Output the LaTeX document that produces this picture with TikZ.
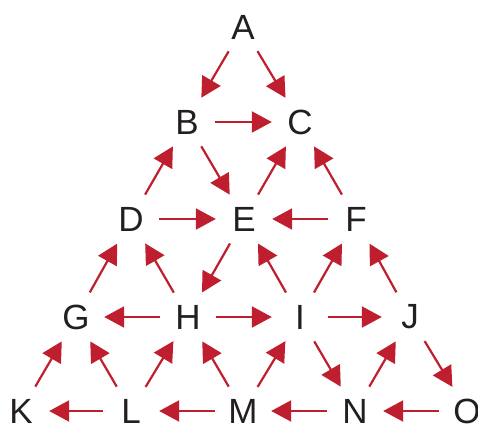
\documentclass[tikz,border=0pt]{standalone}
\usepackage{fontspec}
\setmainfont{Liberation Sans}
\usetikzlibrary{arrows.meta}
\definecolor{arrred}{HTML}{BE1E2D}
\definecolor{txt}{HTML}{231F20}
\begin{document}
\begin{tikzpicture}[x=1pt,y=1pt,
  lbl/.style={circle,minimum size=56pt,inner sep=0pt,text=txt,font=\fontsize{35}{40}\selectfont},
  arr/.style={draw=arrred,line width=2.2pt,-{Triangle[length=20pt,width=21pt]},fill=arrred,shorten >=0pt}]
\useasboundingbox (0,0) rectangle (478,426);
\node[lbl] (A) at (243,399) {A};
\node[lbl] (B) at (187,304) {B};
\node[lbl] (C) at (300,304) {C};
\node[lbl] (D) at (131,207) {D};
\node[lbl] (E) at (244,207) {E};
\node[lbl] (F) at (356,207) {F};
\node[lbl] (G) at (76,109) {G};
\node[lbl] (H) at (188,109) {H};
\node[lbl] (I) at (300,109) {I};
\node[lbl] (J) at (410,109) {J};
\node[lbl] (K) at (21,15) {K};
\node[lbl] (L) at (131,15) {L};
\node[lbl] (M) at (243,15) {M};
\node[lbl] (N) at (355,15) {N};
\node[lbl] (O) at (467,15) {O};
\foreach \a/\b in {A/B,A/C,B/C,B/E,D/B,E/C,F/C,D/E,F/E,G/D,H/D,E/H,I/E,I/F,J/F,H/G,H/I,I/J,K/G,L/G,L/H,M/H,M/I,I/N,N/J,J/O,L/K,M/L,N/M,O/N}
  \draw[arr] (\a) -- (\b);
\end{tikzpicture}
\end{document}
